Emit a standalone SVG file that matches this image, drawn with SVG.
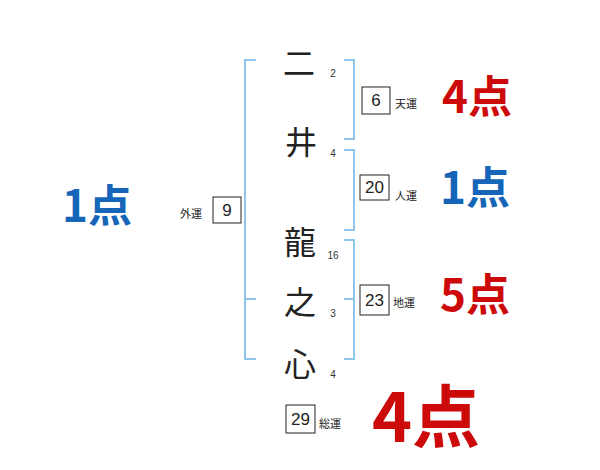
<svg xmlns="http://www.w3.org/2000/svg" width="600" height="470" viewBox="0 0 600 470">
<style>
.br{fill:none;stroke:#8ec5ea;stroke-width:2}
.ch{font-family:"Noto Sans CJK JP",sans-serif;font-size:32px;fill:#222;text-anchor:middle;dominant-baseline:central}
.sn{font-family:"Liberation Sans",sans-serif;font-size:10px;fill:#333;text-anchor:middle;dominant-baseline:central}
.bx{fill:#fff;stroke:#222;stroke-width:1}
.bn{font-family:"Liberation Sans",sans-serif;font-size:17px;fill:#222;text-anchor:middle;dominant-baseline:central}
.lb{font-family:"Noto Sans CJK JP",sans-serif;font-size:11px;fill:#222;dominant-baseline:central}
.pt{font-family:"Noto Sans CJK JP",sans-serif;font-weight:bold;text-anchor:middle;dominant-baseline:central}
.red{fill:#cc0a0a}
.blue{fill:#1565b8}
</style>
<rect width="600" height="470" fill="#fff"/>
<g id="connectors">
<path class="br" d="M256,60 H245 V359 H256 M245,299 H256"/>
<path class="br" d="M344,60 H354 V139 H344"/>
<path class="br" d="M344,150 H354 V230 H344"/>
<path class="br" d="M344,240 H354 V359 H344 M344,299 H354"/>
</g>
<g id="name">
<text class="ch" x="299" y="61">二</text>
<text class="sn" x="333" y="73">2</text>
<text class="ch" x="301" y="140">井</text>
<text class="sn" x="333" y="153">4</text>
<text class="ch" x="300" y="240">龍</text>
<text class="sn" x="333" y="255">16</text>
<text class="ch" x="300" y="300">之</text>
<text class="sn" x="333" y="313">3</text>
<text class="ch" x="300" y="362">心</text>
<text class="sn" x="333" y="374">4</text>
</g>
<g id="gaiun">
<text class="lb" x="180" y="213">外運</text>
<rect class="bx" x="213" y="197" width="28" height="26"/>
<text class="bn" x="227" y="210">9</text>
<text class="pt blue" x="97" y="203" font-size="44">1点</text>
</g>
<g id="tenun">
<rect class="bx" x="362" y="87" width="28" height="27"/>
<text class="bn" x="376" y="100">6</text>
<text class="lb" x="395" y="103">天運</text>
<text class="pt red" x="477" y="94" font-size="44">4点</text>
</g>
<g id="jinun">
<rect class="bx" x="360" y="175" width="29" height="25"/>
<text class="bn" x="374.5" y="187.5">20</text>
<text class="lb" x="395" y="195">人運</text>
<text class="pt blue" x="475" y="185" font-size="44">1点</text>
</g>
<g id="chiun">
<rect class="bx" x="360" y="285" width="29" height="30"/>
<text class="bn" x="374.5" y="300">23</text>
<text class="lb" x="393" y="302">地運</text>
<text class="pt red" x="475" y="292" font-size="44">5点</text>
</g>
<g id="souun">
<rect class="bx" x="286" y="405" width="29" height="28"/>
<text class="bn" x="300.5" y="419">29</text>
<text class="lb" x="319" y="423">総運</text>
<text class="pt red" x="426" y="412" font-size="68">4点</text>
</g>
</svg>
